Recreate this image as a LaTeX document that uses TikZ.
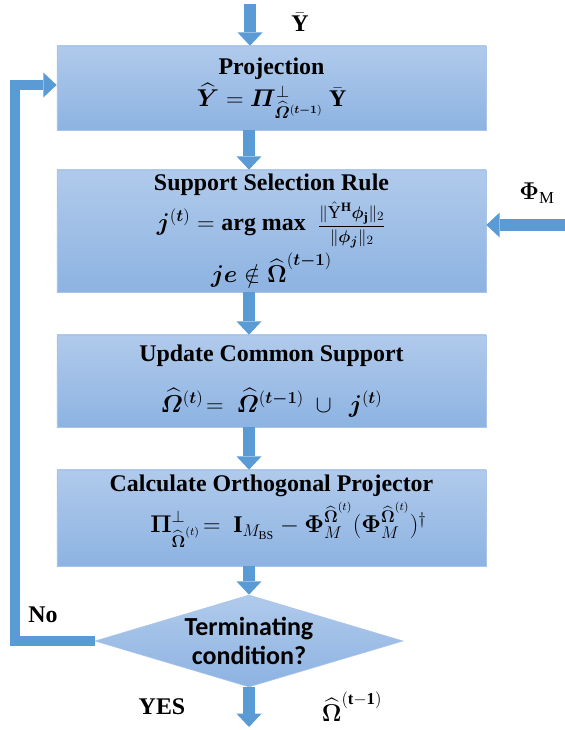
\documentclass[tikz,border=0pt]{standalone}
\usepackage{amsmath,amssymb,bm}
\usepackage{fontspec}
\setmainfont{Liberation Serif}
\newfontfamily\condfont{Carlito}
\usetikzlibrary{shapes.geometric,arrows.meta}
\definecolor{arrowblue}{HTML}{5B9BD5}
\definecolor{boxtop}{HTML}{B0CAEB}
\definecolor{boxbot}{HTML}{8DB3E2}
\definecolor{boxline}{HTML}{A9C4E8}
\begin{document}
\begin{tikzpicture}[x=0.025cm,y=-0.025cm]
  \tikzstyle{stepbox}=[rectangle, draw=boxline, top color=boxtop, bottom color=boxbot, minimum width=10.725cm, inner sep=0pt, align=center, font=\fontsize{17}{21}\selectfont\bfseries]
  \tikzstyle{decision}=[diamond, aspect=3.35, draw=boxline, top color=boxtop, bottom color=boxbot, minimum width=7.7cm, minimum height=2.3cm, inner sep=0pt, align=center, font=\condfont\bfseries\fontsize{18.5}{21}\selectfont]
  \tikzstyle{flow}=[draw=arrowblue, line width=8.5pt, -{Triangle[width=17.8pt, length=9.5pt, line width=0pt]}]
  \tikzstyle{lbl}=[font=\fontsize{17}{21}\selectfont\bfseries]

  \useasboundingbox (0,0) rectangle (565,730);

  \node[stepbox, minimum height=2.1cm]  (proj) at (271.5,88)  {Projection\\[2pt] $\widehat{\bm{Y}} = \bm{\varPi}^{\perp}_{\widehat{\bm{\varOmega}}^{(\bm{t-1})}}\ \bar{\mathbf{Y}}$};
  \node[stepbox, minimum height=3.05cm] (sel)  at (271.5,231) {Support Selection Rule\\[3pt] $\bm{j}^{(\bm{t})} = \textbf{arg max}\ \ \text{\fontsize{13}{15}\selectfont$\displaystyle\frac{\|\hat{\mathrm{Y}}^{\mathbf{H}}\bm{\phi}_{\mathbf{j}}\|_2}{\|\bm{\phi}_{\bm{j}}\|_2}$}$\\[3pt] $\bm{je} \notin \widehat{\bm{\Omega}}^{(\bm{t-1})}$};
  \node[stepbox, minimum height=2.3cm]  (upd)  at (271.5,381) {Update Common Support\\[15pt] $\widehat{\bm{\varOmega}}^{(\bm{t})}\!= \ \widehat{\bm{\varOmega}}^{(\bm{t-1})}\ \cup\ \ \bm{j}^{(\bm{t})}$};
  \node[stepbox, minimum height=2.4cm]  (calc) at (271.5,518) {Calculate Orthogonal Projector\\[3pt] \hspace*{0.85cm}$\bm{\Pi}^{\perp}_{\widehat{\bm{\Omega}}^{(t)}}\!= \ \mathbf{I}_{M_{\mathrm{BS}}} - \bm{\Phi}_M^{\widehat{\bm{\Omega}}^{(t)}}(\bm{\Phi}_M^{\widehat{\bm{\Omega}}^{(t)}})^{\dagger}$\\[-1pt] \mbox{}};
  \node[decision] (cond) at (249,641) {Terminating\\condition?};

  \coordinate (yin) at (250,4);
  \coordinate (phiin) at (565,225);
  \coordinate (loop) at (15,85);
  \coordinate (out) at (249,727);

  \node[lbl] (ybar) at (300,22)  {$\bar{\mathbf{Y}}$};
  \node[lbl] (phim) at (537,193) {$\bm{\Phi}_{\mathrm{M}}$};
  \node[lbl] (no)   at (43,615)  {No};
  \node[lbl] (yes)  at (162,707) {YES};
  \node[lbl] (omg)  at (352,707) {$\widehat{\bm{\Omega}}^{(\mathbf{t-1})}$};

  \path[flow] (yin) -- (yin |- proj.north);
  \path[flow] (proj.south -| cond) -- (sel.north -| cond);
  \path[flow] (sel.south -| cond) -- (upd.north -| cond);
  \path[flow] (upd.south -| cond) -- (calc.north -| cond);
  \path[flow] (calc.south -| cond) -- (cond.north);
  \path[flow] (phiin) -- (phiin -| sel.east);
  \path[flow] (cond.south) -- (out);
  \path[flow, line width=6.5pt, line join=miter] (cond.west) -| (loop) -- (loop -| proj.west);
\end{tikzpicture}
\end{document}
